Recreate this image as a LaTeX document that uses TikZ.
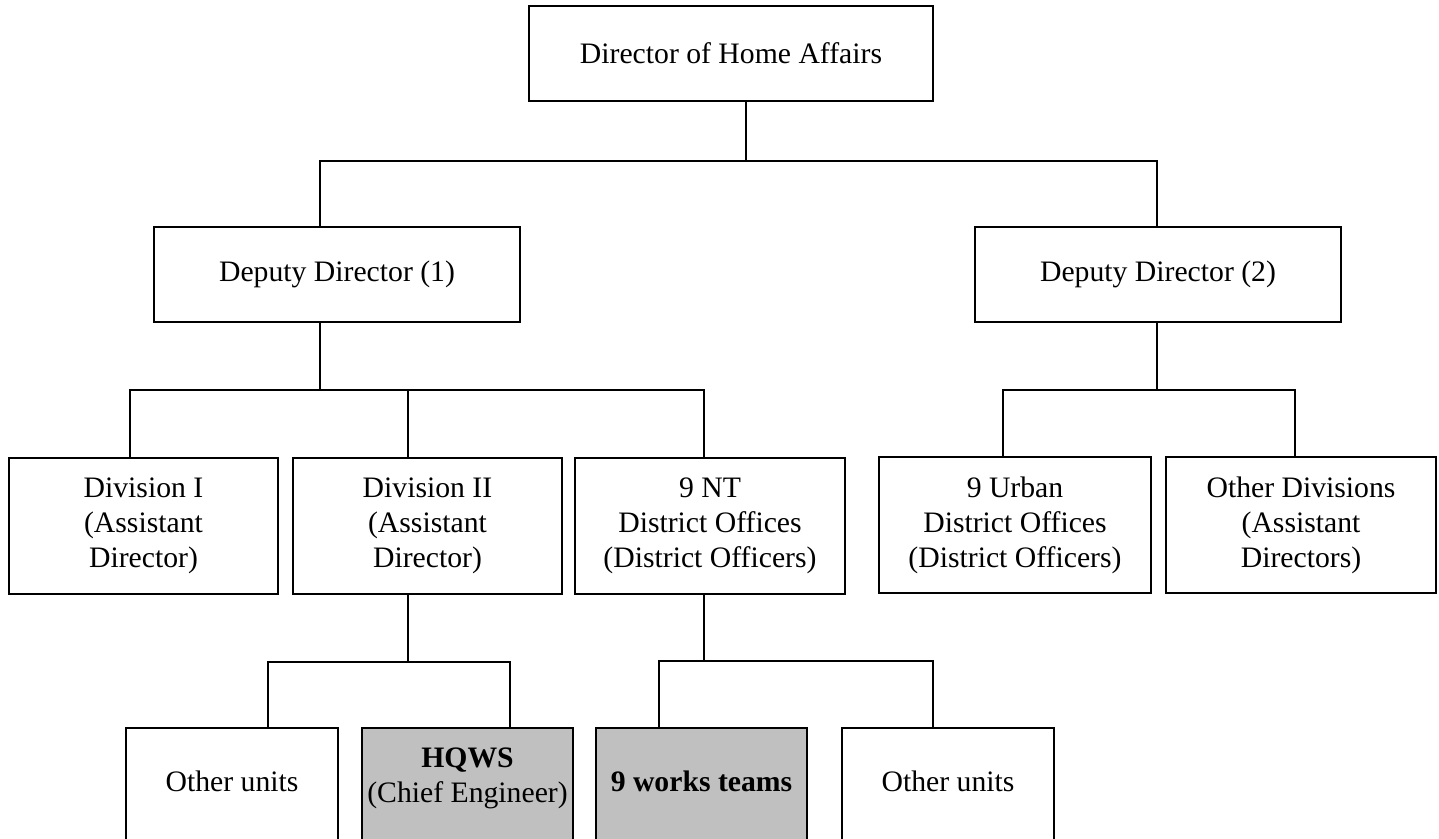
\documentclass[tikz,border=0pt]{standalone}
\usepackage{fontspec}
\setmainfont{Liberation Serif}
\definecolor{boxgray}{RGB}{192,192,192}
\begin{document}
\begin{tikzpicture}[x=1pt,y=-1pt,
  every node/.style={font=\fontsize{29.7pt}{35pt}\selectfont},
  box/.style={draw=black, line width=1.6pt, fill=white, align=center, inner sep=0pt},
  botbox/.style={box, minimum height=140pt},
  shaded/.style={fill=boxgray},
  link/.style={draw=black, line width=1.6pt}]
\useasboundingbox (0,0) rectangle (1439,838);
\clip (0,0) rectangle (1439,838);
\fill[white] (0,0) rectangle (1439,838);

% level 0
\node[box, minimum width=404pt, minimum height=95pt] (top) at (731,53.5) {Director of Home Affairs};
% level 1
\node[box, minimum width=366pt, minimum height=95pt] (dd1) at (337,274.5) {Deputy Director (1)};
\node[box, minimum width=366pt, minimum height=95pt] (dd2) at (1158,274.5) {Deputy Director (2)};
% level 2
\node[box, minimum width=269pt, minimum height=136pt] (div1) at (143.5,526) {Division I\\(Assistant\\Director)};
\node[box, minimum width=269pt, minimum height=136pt] (div2) at (427.5,526) {Division II\\(Assistant\\Director)};
\node[box, minimum width=270pt, minimum height=136pt] (nt) at (710,526) {9 NT\\District Offices\\(District Officers)};
\node[box, minimum width=272pt, minimum height=136pt] (urban) at (1015,525) {9 Urban\\District Offices\\(District Officers)};
\node[box, minimum width=270pt, minimum height=136pt] (odiv) at (1301,525) {Other Divisions\\(Assistant\\Directors)};
% level 3 (cut off at the bottom edge)
\node[botbox, minimum width=212pt, label={[anchor=center, yshift=-54pt]north:Other units}] (oth1) at (232,798) {};
\node[botbox, shaded, minimum width=211pt, label={[anchor=center, align=center, yshift=-51pt]north:\textbf{HQWS}\\(Chief Engineer)}] (hqws) at (467.5,798) {};
\node[botbox, shaded, minimum width=211pt, label={[anchor=center, yshift=-54pt]north:\textbf{9 works teams}}] (works) at (701.5,798) {};
\node[botbox, minimum width=212pt, label={[anchor=center, yshift=-54pt]north:Other units}] (oth2) at (948,798) {};

% connectors
\draw[link] ([xshift=15pt]top.south) -- ++(0,59) coordinate (j1);
\draw[link] ([xshift=-17pt]dd1.north) |- (j1) -| ([xshift=-1pt]dd2.north);

\draw[link] ([xshift=-17pt]dd1.south) -- ++(0,67) coordinate (j2);
\draw[link] ([xshift=-13.5pt]div1.north) |- (j2) -| ([xshift=-6pt]nt.north);
\draw[link] ([xshift=-19.5pt]div2.north) -- ([xshift=-19.5pt]div2.north |- j2);

\draw[link] ([xshift=-1pt]dd2.south) -- ++(0,67) coordinate (j3);
\draw[link] ([xshift=-12pt]urban.north) |- (j3) -| ([xshift=-6pt]odiv.north);

\draw[link] ([xshift=-19.5pt]div2.south) -- ++(0,67) coordinate (j4);
\draw[link] ([xshift=36pt]oth1.north) |- (j4) -| ([xshift=42.5pt]hqws.north);

\draw[link] ([xshift=-6pt]nt.south) -- ++(0,66) coordinate (j5);
\draw[link] ([xshift=-42.5pt]works.north) |- (j5) -| ([xshift=-15pt]oth2.north);
\end{tikzpicture}
\end{document}
